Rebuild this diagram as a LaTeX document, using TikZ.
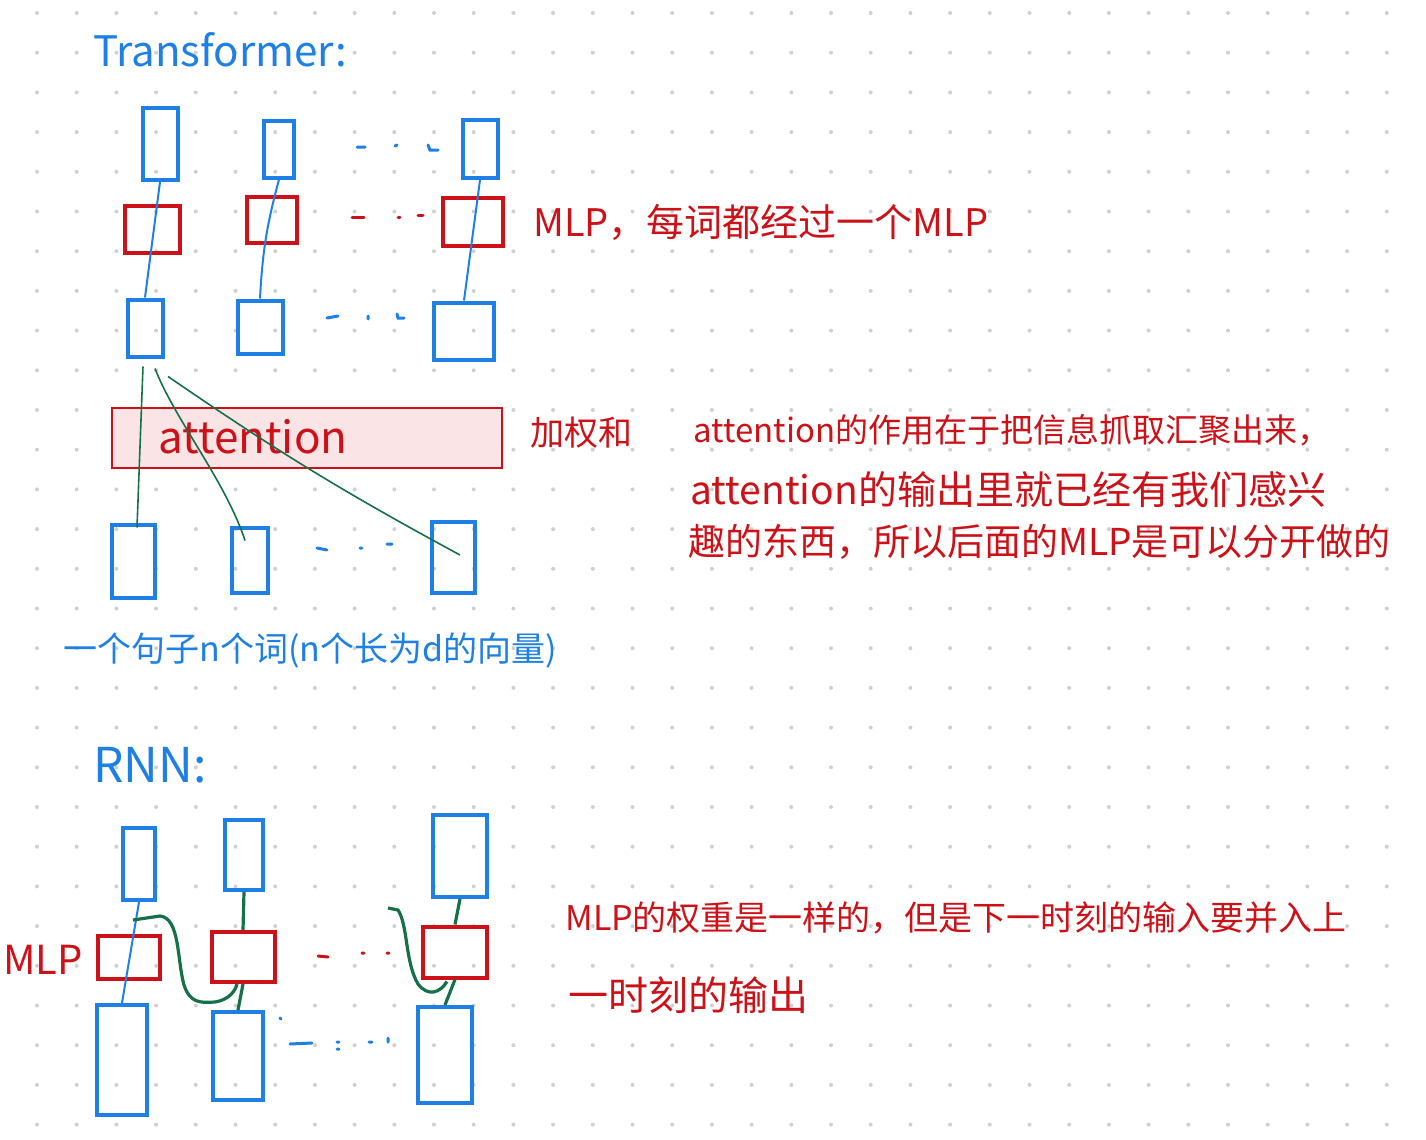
\documentclass[tikz,border=0pt]{standalone}
\usepackage{fontspec}
\newfontfamily\cjk{Noto Sans CJK SC}
\usetikzlibrary{calc}

\definecolor{penblue}{RGB}{30,128,228}
\definecolor{penred}{RGB}{204,18,24}
\definecolor{pengreen}{RGB}{22,112,72}
\definecolor{attfill}{RGB}{251,228,230}
\definecolor{dotgray}{RGB}{208,208,208}

\tikzset{
  bbox/.style 2 args={draw=penblue, line width=2pt, minimum width=#1*0.5pt,
    minimum height=#2*0.5pt, inner sep=0pt},
  rbox/.style 2 args={draw=penred, line width=2pt, minimum width=#1*0.5pt,
    minimum height=#2*0.5pt, inner sep=0pt},
  link/.style={draw=penblue, line width=1pt},
  glink/.style={draw=pengreen, line width=0.8pt},
  rlink/.style={draw=pengreen, line width=1.6pt},
  note/.style={font=\cjk\fontsize{17}{20}\selectfont, text=penred, anchor=west, inner sep=0pt},
  bnote/.style={font=\cjk\fontsize{17}{20}\selectfont, text=penblue, anchor=west, inner sep=0pt},
  gapmark/.style={line width=1.5pt, line cap=round},
}

\begin{document}
\begin{tikzpicture}[x=0.5pt, y=-0.5pt]

  \useasboundingbox[fill=white] (0,0) rectangle (1426,1140);

  % dotted paper
  \foreach \i in {0,...,34}
    \foreach \j in {0,...,28}
      \fill[dotgray] (37+39.7*\i, 13+39.7*\j) circle (1pt);

  %% ---- Transformer ----
  \node[bnote, font=\cjk\fontsize{21}{24}\selectfont] (ttitle) at (93,50) {Transformer:};

  \node[draw=penred, line width=1.2pt, fill=attfill, minimum width=195pt,
    minimum height=30pt, inner sep=0pt] (att) at (307,438) {};
  \node[note, font=\cjk\fontsize{22}{24}\selectfont] (atttxt) at (158,437) {attention};

  \node[bbox={35}{72}] (A1) at (160,144) {};
  \node[bbox={30}{57}] (A2) at (279,149) {};
  \node[bbox={35}{58}] (A3) at (480,149) {};

  \node[rbox={55}{47}] (R1) at (152,229) {};
  \node[rbox={50}{46}] (R2) at (272,220) {};
  \node[rbox={60}{48}] (R3) at (473,222) {};

  \node[bbox={35}{57}] (B1) at (145,328) {};
  \node[bbox={45}{53}] (B2) at (260,327) {};
  \node[bbox={60}{57}] (B3) at (464,331) {};

  \node[bbox={43}{73}] (C1) at (133,561) {};
  \node[bbox={36}{65}] (C2) at (250,560) {};
  \node[bbox={43}{71}] (C3) at (453,557) {};

  \draw[link] (A1.south) -- (B1.north); % through MLP
  \draw[link] (A2.south) to[bend right=6] (B2.north);
  \draw[link] (A3.south) -- (B3.north);

  \draw[glink] ($(B1.south)+(-2,8)$) -- ($(C1.north)+(4,5)$);
  \draw[glink] ($(B1.south)+(10,10)$) .. controls (175,420) and (225,480) .. ($(C2.north)+(-5,15)$);
  \draw[glink] ($(C3.center)+(7,-2)$) to[bend left=3] ($(B1.south)+(23,18)$);

  % ellipses between columns
  \draw[gapmark, penblue] (357,147) -- +(8,0) (395,146) -- +(2,-1) (428,145) -- +(2,5) -- +(10,5);
  \draw[gapmark, penred] (352,217) -- +(12,0) (398,217) -- +(2,0) (418,215) -- +(5,0);
  \draw[gapmark, penblue] (327,318) -- +(11,-2) (368,316) -- +(0,3) (397,314) -- +(1,4) -- +(7,4);
  \draw[gapmark, penblue] (317,548) -- +(10,2) (360,548) -- +(2,0) (387,544) -- +(5,0);

  \node[note, font=\cjk\fontsize{19}{22}\selectfont] (mlpnote) at (533,222) {MLP，每词都经过一个MLP};
  \node[note] (wsum) at (530,433) {加权和};
  \node[note, font=\cjk\fontsize{16.5}{20}\selectfont] (para1) at (693,430) {attention的作用在于把信息抓取汇聚出来，};
  \node[note, font=\cjk\fontsize{19.5}{22}\selectfont] (para2) at (690,490) {attention的输出里就已经有我们感兴};
  \node[note, font=\cjk\fontsize{18.5}{22}\selectfont] (para3) at (688,542) {趣的东西，所以后面的MLP是可以分开做的};

  \node[bnote] (sent) at (63,650) {一个句子n个词(n个长为d的向量)};

  %% ---- RNN ----
  \node[bnote, font=\cjk\fontsize{24}{26}\selectfont] (rtitle) at (93,765) {RNN:};

  \node[bbox={32}{72}] (T1) at (139,864) {};
  \node[bbox={38}{70}] (T2) at (244,855) {};
  \node[bbox={54}{82}] (T3) at (460,856) {};

  \node[rbox={62}{43}] (M1) at (129,957) {};
  \node[rbox={63}{50}] (M2) at (243,957) {};
  \node[rbox={64}{51}] (M3) at (455,952) {};

  \node[bbox={50}{110}] (L1) at (122,1060) {};
  \node[bbox={50}{88}] (L2) at (238,1056) {};
  \node[bbox={54}{96}] (L3) at (445,1055) {};

  \node[note, font=\cjk\fontsize{20}{22}\selectfont] (mlplbl) at (3,960) {MLP};

  \draw[link] (T1.south) -- (L1.north);
  \draw[rlink] (T2.south) -- (M2.north);
  \draw[rlink] (M2.south) -- (L2.north);
  \draw[rlink] (T3.south) -- (M3.north);
  \draw[rlink] (M3.south) -- (L3.north);

  \coordinate (h1) at ($(T1.south)+(-6,18)$);
  \coordinate (h3) at (388,908);
  \draw[rlink] (h1) -- (160,916) .. controls (180,918) and (177,960) .. (184,985)
    .. controls (190,1003) and (200,1003) .. (215,1002)
    .. controls (228,1000) and (235,992) .. ($(M2.south)+(-6,0)$); %% h(t-1) -> MLP
  \draw[rlink] (h3) -- (398,910) .. controls (408,925) and (405,962) .. (418,984)
    .. controls (428,997) and (440,993) .. ($(M3.south)+(-8,2)$);

  \draw[gapmark, penred] (318,956) -- +(10,1) (362,953) -- +(2,0) (387,953) -- +(2,0);
  \draw[gapmark, penblue] (280,1018) -- +(1,1) (290,1044) -- +(22,-1) (337,1042) -- +(2,0)
    (337,1049) -- +(2,0) (369,1042) -- +(3,0) (388,1038) -- +(0,4);

  \node[note] (rnote1) at (565,918) {MLP的权重是一样的，但是下一时刻的输入要并入上};
  \node[note, font=\cjk\fontsize{20}{22}\selectfont] (rnote2) at (568,995) {一时刻的输出};

\end{tikzpicture}
\end{document}
